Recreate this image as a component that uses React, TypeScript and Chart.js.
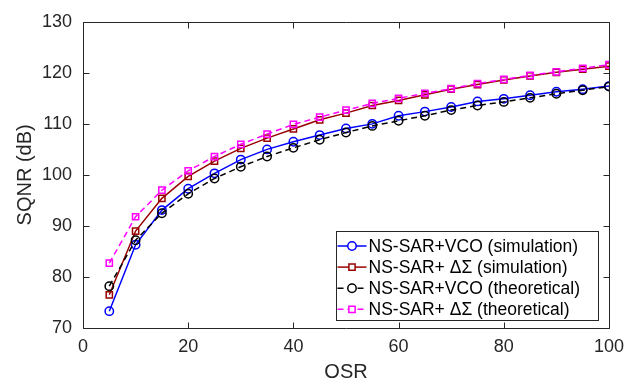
import React, { useEffect, useRef } from "react";
import { Chart, registerables } from "chart.js";

Chart.register(...registerables);

// ---- data ----
const osr = [5, 10, 15, 20, 25, 30, 35, 40, 45, 50, 55, 60, 65, 70, 75, 80, 85, 90, 95, 100];
const vcoSim = [73.3, 86.3, 93.1, 97.3, 100.3, 103.0, 105.0, 106.5, 107.8, 109.1, 110.0, 111.6, 112.4, 113.3, 114.4, 114.9, 115.6, 116.3, 116.8, 117.4];
const dsSim = [76.5, 89.0, 95.4, 99.7, 102.7, 105.2, 107.2, 109.0, 110.8, 112.1, 113.6, 114.6, 115.7, 116.8, 117.7, 118.6, 119.4, 120.1, 120.7, 121.3];
const vcoTheory = [78.2, 87.2, 92.5, 96.3, 99.3, 101.6, 103.6, 105.3, 106.9, 108.3, 109.6, 110.6, 111.6, 112.7, 113.6, 114.3, 115.1, 115.9, 116.6, 117.3];
const dsTheory = [82.7, 91.8, 97.0, 100.8, 103.6, 106.0, 108.0, 109.9, 111.3, 112.7, 114.0, 115.0, 116.0, 116.9, 117.9, 118.7, 119.5, 120.2, 120.9, 121.6];
const seriesLabels = [
  "NS-SAR+VCO (simulation)",
  "NS-SAR+ \u0394\u03A3 (simulation)",
  "NS-SAR+VCO (theoretical)",
  "NS-SAR+ \u0394\u03A3 (theoretical)",
];
const xTitle = "OSR";
const yTitle = "SQNR (dB)";

const AXIS = "#262626";
const FONT = "'Liberation Sans', Arial, Helvetica, sans-serif";

const toPts = (ys: number[]) => ys.map((v, i) => ({ x: osr[i], y: v }));

const boxPlugin = {
  id: "matlabBox",
  afterDatasetsDraw(chart: any) {
    const { ctx, chartArea, scales } = chart;
    const { left, right, top, bottom } = chartArea;
    const L = Math.round(left) + 0.5;
    const R = Math.round(right) + 0.5;
    const T = Math.round(top) + 0.5;
    const B = Math.round(bottom) + 0.5;
    ctx.save();
    ctx.strokeStyle = AXIS;
    ctx.lineWidth = 1;
    ctx.beginPath();
    ctx.rect(L, T, R - L, B - T);
    ctx.stroke();
    const tl = 6;
    ctx.beginPath();
    scales.x.ticks.forEach((t: any) => {
      const px = Math.round(scales.x.getPixelForValue(t.value)) + 0.5;
      ctx.moveTo(px, B);
      ctx.lineTo(px, B - tl);
      ctx.moveTo(px, T);
      ctx.lineTo(px, T + tl);
    });
    scales.y.ticks.forEach((t: any) => {
      const py = Math.round(scales.y.getPixelForValue(t.value)) + 0.5;
      ctx.moveTo(L, py);
      ctx.lineTo(L + tl, py);
      ctx.moveTo(R, py);
      ctx.lineTo(R - tl, py);
    });
    ctx.stroke();
    ctx.restore();
  },
};

const legendPlugin = {
  id: "matlabLegend",
  afterDraw(chart: any) {
    const { ctx, chartArea } = chart;
    const boxR = chartArea.right - 11;
    const boxB = chartArea.bottom - 8;
    const boxW = 262;
    const boxH = 89;
    const bx = Math.round(boxR - boxW) + 0.5;
    const by = Math.round(boxB - boxH) + 0.5;
    ctx.save();
    ctx.fillStyle = "#ffffff";
    ctx.fillRect(bx, by, boxW, boxH);
    ctx.strokeStyle = AXIS;
    ctx.lineWidth = 1;
    ctx.strokeRect(bx, by, boxW, boxH);
    const rowH = 21.1;
    const firstY = by + 14.5;
    chart.data.datasets.forEach((ds: any, i: number) => {
      const cy = firstY + i * rowH;
      const x0 = bx + 1;
      const x1 = bx + 30;
      const mx = (x0 + x1) / 2;
      ctx.strokeStyle = ds.borderColor;
      ctx.lineWidth = ds.borderWidth;
      ctx.setLineDash(ds.borderDash || []);
      ctx.beginPath();
      ctx.moveTo(x0, cy);
      ctx.lineTo(x1, cy);
      ctx.stroke();
      ctx.setLineDash([]);
      ctx.strokeStyle = ds.pointBorderColor;
      ctx.lineWidth = ds.pointBorderWidth;
      ctx.fillStyle = "#ffffff";
      ctx.beginPath();
      if (ds.pointStyle === "rect") {
        const s = ds.pointRadius * Math.SQRT1_2;
        ctx.rect(mx - s, cy - s, 2 * s, 2 * s);
      } else {
        ctx.arc(mx, cy, ds.pointRadius, 0, Math.PI * 2);
      }
      ctx.fill();
      ctx.stroke();
      ctx.fillStyle = "#000000";
      ctx.font = `17.5px ${FONT}`;
      ctx.textBaseline = "middle";
      ctx.textAlign = "left";
      ctx.fillText(seriesLabels[i], x1 + 2, cy + 1);
    });
    ctx.restore();
  },
};

export default function App() {
  const ref = useRef<HTMLCanvasElement | null>(null);
  useEffect(() => {
    if (!ref.current) return;
    const mk = (
      data: number[],
      color: string,
      style: string,
      dash: number[] | undefined,
      order: number,
      radius: number
    ) => ({
      data: toPts(data),
      borderColor: color,
      backgroundColor: "rgba(0,0,0,0)",
      borderWidth: 1.5,
      borderDash: dash,
      pointStyle: style,
      pointRadius: radius,
      pointBorderColor: color,
      pointBorderWidth: 1.5,
      pointBackgroundColor: "rgba(0,0,0,0)",
      tension: 0,
      order,
    });
    const chart = new Chart(ref.current, {
      type: "line",
      data: {
        datasets: [
          { label: seriesLabels[0], ...mk(vcoSim, "#0000ff", "circle", undefined, 4, 4.2) },
          { label: seriesLabels[1], ...mk(dsSim, "#990000", "rect", undefined, 3, 4.4) },
          { label: seriesLabels[2], ...mk(vcoTheory, "#000000", "circle", [6, 4], 2, 4.2) },
          { label: seriesLabels[3], ...mk(dsTheory, "#ff00ff", "rect", [6, 4], 1, 4.4) },
        ] as any,
      },
      options: {
        animation: false,
        responsive: false,
        devicePixelRatio: 1,
        layout: { padding: { top: 10, right: 23, left: 0, bottom: 0 } },
        plugins: { legend: { display: false }, tooltip: { enabled: false } },
        scales: {
          x: {
            type: "linear",
            min: 0,
            max: 100,
            ticks: { stepSize: 20, color: AXIS, font: { family: FONT, size: 18 }, padding: 8 },
            grid: { display: false, drawTicks: false },
            border: { display: false },
            title: { display: true, text: xTitle, color: AXIS, font: { family: FONT, size: 20 }, padding: { top: 0, bottom: 6 } },
            afterFit: (s: any) => { s.height = 62; },
          },
          y: {
            type: "linear",
            min: 70,
            max: 130,
            ticks: { stepSize: 10, color: AXIS, font: { family: FONT, size: 18 }, padding: 11 },
            grid: { display: false, drawTicks: false },
            border: { display: false },
            title: { display: true, text: yTitle, color: AXIS, font: { family: FONT, size: 20 }, padding: { top: 13, bottom: 0 } },
            afterFit: (s: any) => { s.width = 83; },
          },
        },
      } as any,
      plugins: [boxPlugin, legendPlugin],
    });
    return () => chart.destroy();
  }, []);
  return (
    <canvas
      ref={ref}
      width={632}
      height={390}
      style={{ position: "absolute", left: 0, top: 0, width: 632, height: 390, background: "#ffffff" }}
    />
  );
}
